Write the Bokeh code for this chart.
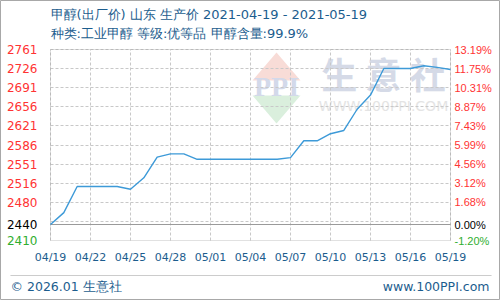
import pandas as pd
from bokeh.plotting import figure
from bokeh.models import (Range1d, FixedTicker, LinearAxis, Label, Grid,
                          DatetimeTickFormatter, BoxAnnotation, PolyAnnotation)
from bokeh.embed import file_html
from bokeh.resources import INLINE

# ---------------- data ----------------
dates = ["2021-04-19", "2021-04-20", "2021-04-21", "2021-04-22", "2021-04-23",
         "2021-04-24", "2021-04-25", "2021-04-26", "2021-04-27", "2021-04-28",
         "2021-04-29", "2021-04-30", "2021-05-01", "2021-05-02", "2021-05-03",
         "2021-05-04", "2021-05-05", "2021-05-06", "2021-05-07", "2021-05-08",
         "2021-05-09", "2021-05-10", "2021-05-11", "2021-05-12", "2021-05-13",
         "2021-05-14", "2021-05-15", "2021-05-16", "2021-05-17", "2021-05-18",
         "2021-05-19"]
prices = [2440, 2462, 2510, 2510, 2510, 2510, 2505, 2526, 2564, 2570,
          2570, 2560, 2560, 2560, 2560, 2560, 2560, 2560, 2563, 2594,
          2594, 2607, 2613, 2652, 2678, 2727, 2727, 2727, 2732, 2729,
          2725]

tick_dates = ["2021-04-19", "2021-04-22", "2021-04-25", "2021-04-28",
              "2021-05-01", "2021-05-04", "2021-05-07", "2021-05-10",
              "2021-05-13", "2021-05-16", "2021-05-19"]

base_price = 2440
grid_pcts = [13.19, 11.75, 10.31, 8.87, 7.43, 5.99, 4.56, 3.12, 1.68, 0.24]
left_labels = ["2761", "2726", "2691", "2656", "2621", "2586", "2551",
               "2516", "2480", ""]
right_labels = ["13.19%", "11.75%", "10.31%", "8.87%", "7.43%", "5.99%",
                "4.56%", "3.12%", "1.68%", ""]
bottom_pct = -1.20
base_label_left, base_label_right = "2440", "0.00%"
bottom_label_left, bottom_label_right = "2410", "-1.20%"

title1 = "甲醇(出厂价) 山东 生产价 2021-04-19 - 2021-05-19"
title2 = "种类:工业甲醇 等级:优等品 甲醇含量:99.9%"
footer_left = "© 2026.01 生意社"
footer_right = "www.100PPI.com"
wm_name = "生 意 社"
wm_url = "WWW.100PPI.COM"
wm_logo = "PPI"

# ---------------- styling / layout ----------------
W, H = 500, 300
PLOT_L, PLOT_R, PLOT_T, PLOT_B = 50, 450, 49, 240
BLUE_TXT = "#1c5d8e"
RED = "#ff3333"
GREEN = "#2fae2f"
LINE = "#3d9ad8"
GRID = "#c8c8c8"
FRAME = "#9a9a9a"
CJK = "Noto Sans CJK SC"
TXT = "DejaVu Sans"   # CJK glyphs fall back to the installed CJK font

x = pd.to_datetime(dates)
ms = lambda d: pd.Timestamp(d).value / 1e6
x0, x1 = ms(dates[0]), ms(dates[-1])

def pct_to_val(p):
    return base_price * (1 + p / 100.0)

grid_vals = [pct_to_val(p) for p in grid_pcts]
y_lo = pct_to_val(bottom_pct)
y_hi = pct_to_val(grid_pcts[0])

# map the plot box onto its pixel place inside a full-canvas frame
ms_per_px = (x1 - x0) / (PLOT_R - PLOT_L)
X_START = x0 - PLOT_L * ms_per_px
X_END = X_START + W * ms_per_px
u_per_px = (y_hi - y_lo) / (PLOT_B - PLOT_T)
Y_END = y_hi + PLOT_T * u_per_px
Y_START = Y_END - H * u_per_px

def cx(px):
    return X_START + px * ms_per_px

def cy(py):
    return Y_END - py * u_per_px

p = figure(width=W, height=H, x_axis_type="datetime", title=None,
           x_range=Range1d(X_START, X_END), y_range=Range1d(Y_START, Y_END),
           output_backend="svg", toolbar_location=None)
p.min_border = 0
p.outline_line_color = "#a8a8a8"
p.background_fill_color = "white"
p.border_fill_color = "white"

def style_axis(ax, color, font, size, standoff):
    ax.axis_line_color = None
    ax.major_tick_line_color = None
    ax.minor_tick_line_color = None
    ax.major_tick_out = 0
    ax.major_tick_in = 0
    ax.minor_tick_out = 0
    ax.minor_tick_in = 0
    ax.major_label_text_color = color
    ax.major_label_text_font = font
    ax.major_label_text_font_size = size
    ax.major_label_standoff = standoff

# x axis
xa = p.xaxis[0]
xa.ticker = FixedTicker(ticks=[ms(d) for d in tick_dates])
xa.formatter = DatetimeTickFormatter(days="%m/%d", months="%m/%d",
                                     years="%m/%d")
xa.fixed_location = y_lo
style_axis(xa, BLUE_TXT, "DejaVu Sans", "11px", 10)

# left axes
yl = p.yaxis[0]
yl.ticker = FixedTicker(ticks=grid_vals)
yl.major_label_overrides = {v: t for v, t in zip(grid_vals, left_labels)}
yl.fixed_location = x0
style_axis(yl, RED, "DejaVu Sans", "12px", 13)

def extra_axis(side, loc, tick, text, color, font, size, standoff):
    ax = LinearAxis(ticker=FixedTicker(ticks=[tick]),
                    major_label_overrides={tick: text}, fixed_location=loc)
    style_axis(ax, color, font, size, standoff)
    p.add_layout(ax, side)
    return ax

extra_axis("left", x0, base_price, base_label_left, "black",
           "DejaVu Sans", "12px", 13)
extra_axis("left", x0, y_lo, bottom_label_left, GREEN,
           "DejaVu Sans", "12px", 13)

# right axes
yr = LinearAxis(ticker=FixedTicker(ticks=grid_vals), fixed_location=x1)
yr.major_label_overrides = {v: t for v, t in zip(grid_vals, right_labels)}
style_axis(yr, RED, "Liberation Sans", "11px", 4)
p.add_layout(yr, "right")
extra_axis("right", x1, base_price, base_label_right, "black",
           "Liberation Sans", "11px", 4)
extra_axis("right", x1, y_lo, bottom_label_right, GREEN,
           "Liberation Sans", "11px", 4)

# grids, limited to the plot box
for g in (p.xgrid[0], p.ygrid[0]):
    g.grid_line_color = GRID
    g.grid_line_dash = "3 2"
    g.grid_line_width = 1
p.xgrid[0].cross_bounds = (y_lo, y_hi)
p.ygrid[0].cross_bounds = (x0, x1)

# base (0%) solid line
p.add_layout(Grid(dimension=1, ticker=FixedTicker(ticks=[base_price]),
                  cross_bounds=(x0, x1), grid_line_color=FRAME,
                  grid_line_width=1))

# plot box border
p.add_layout(BoxAnnotation(left=x0, right=x1, bottom=y_lo, top=y_hi,
                           fill_color=None, fill_alpha=0,
                           line_color=FRAME, line_width=1, level="underlay"))

# watermark
p.add_layout(PolyAnnotation(xs=[cx(252), cx(276), cx(300)],
                            ys=[cy(80), cy(52), cy(80)],
                            fill_color="#f8dcd7", fill_alpha=1,
                            line_color=None, level="image"))
p.add_layout(PolyAnnotation(xs=[cx(252), cx(300), cx(276)],
                            ys=[cy(95), cy(95), cy(123)],
                            fill_color="#daefdd", fill_alpha=1,
                            line_color=None, level="image"))
p.add_layout(Label(x=cx(276), y=cy(86), text=wm_logo, text_align="center",
                   text_baseline="middle", text_color="#d3d9ea",
                   text_font="Liberation Serif", text_font_style="bold",
                   text_font_size="28px", level="image"))
p.add_layout(Label(x=cx(383), y=cy(72), text=wm_name, text_align="center",
                   text_baseline="middle", text_color="#d5dae7",
                   text_font=CJK, text_font_style="bold",
                   text_font_size="36px", level="image"))
p.add_layout(Label(x=cx(383), y=cy(105), text=wm_url, text_align="center",
                   text_baseline="middle", text_color="#e4e4e4",
                   text_font="DejaVu Sans", text_font_size="14px",
                   level="image"))

# titles
p.add_layout(Label(x=cx(50), y=cy(14), text=title1, text_baseline="middle",
                   text_color=BLUE_TXT, text_font=TXT,
                   text_font_size="13px"))
p.add_layout(Label(x=cx(50), y=cy(33), text=title2, text_baseline="middle",
                   text_color=BLUE_TXT, text_font=TXT,
                   text_font_size="13px"))

# footer
p.add_layout(BoxAnnotation(left=cx(10), right=cx(491), bottom=cy(275),
                           top=cy(275), fill_color=None, fill_alpha=0,
                           line_color=FRAME, line_width=1))
p.add_layout(Label(x=cx(10), y=cy(286), text=footer_left,
                   text_baseline="middle", text_color=BLUE_TXT,
                   text_font=TXT, text_font_size="12.5px"))
p.add_layout(Label(x=cx(489), y=cy(286), text=footer_right,
                   text_align="right", text_baseline="middle",
                   text_color=BLUE_TXT, text_font="DejaVu Sans",
                   text_font_size="12.5px"))

# price line
p.line(x, prices, line_color=LINE, line_width=1.4)

open("out.html", "w").write(file_html(p, INLINE))
